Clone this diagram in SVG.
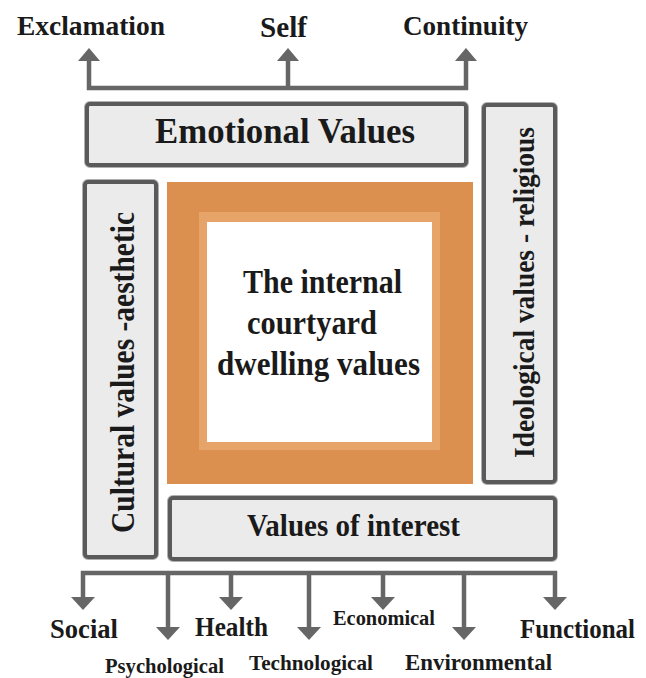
<svg xmlns="http://www.w3.org/2000/svg" width="646" height="678" viewBox="0 0 646 678">
  <style>
    .lbl { font-family: "Liberation Serif", "Times New Roman", serif; font-weight: bold; fill: #1a1a1a; }
    .box { fill: #ebebeb; stroke: #5a5a5a; stroke-width: 4; }
    .halo { fill: none; stroke: #b0b0b0; stroke-width: 6; }
    .wire { fill: none; stroke: #666666; stroke-width: 4.5; stroke-linejoin: miter; }
    .head { fill: #666666; }
  </style>
  <defs>
    <polygon id="upHead" points="0,0 -11,13 11,13"/>
    <polygon id="downHead" points="0,0 -12,-13 12,-13"/>
  </defs>
  <rect width="646" height="678" fill="#ffffff"/>

  <!-- connectors -->
  <g id="connectors">
    <!-- top branch -->
    <path class="wire" d="M89,61 V88 H466 V61 M288,88 V61"/>
    <use href="#upHead" x="89" y="48" class="head"/>
    <use href="#upHead" x="288" y="48" class="head"/>
    <use href="#upHead" x="466" y="48" class="head"/>
    <!-- bottom branch -->
    <path class="wire" d="M83,598 V573 H555 V598 M168,573 V627 M231,573 V598 M309,573 V627 M383,573 V598 M464,573 V627"/>
    <use href="#downHead" x="83" y="610" class="head"/>
    <use href="#downHead" x="168" y="640" class="head"/>
    <use href="#downHead" x="231" y="610" class="head"/>
    <use href="#downHead" x="309" y="640" class="head"/>
    <use href="#downHead" x="383" y="610" class="head"/>
    <use href="#downHead" x="464" y="640" class="head"/>
    <use href="#downHead" x="555" y="610" class="head"/>
  </g>

  <!-- top labels -->
  <g id="exclamation"><text class="lbl" x="17" y="35" font-size="27" textLength="148" lengthAdjust="spacingAndGlyphs">Exclamation</text></g>
  <g id="self"><text class="lbl" x="260" y="37" font-size="29" textLength="47" lengthAdjust="spacingAndGlyphs">Self</text></g>
  <g id="continuity"><text class="lbl" x="403" y="35" font-size="27" textLength="125" lengthAdjust="spacingAndGlyphs">Continuity</text></g>

  <!-- emotional values -->
  <g id="emotional">
    <rect class="halo" x="87" y="104" width="379" height="61" rx="3"/>
    <rect class="box" x="87" y="104" width="379" height="61" rx="3"/>
    <text class="lbl" x="155" y="143" font-size="36" textLength="260" lengthAdjust="spacingAndGlyphs">Emotional Values</text>
  </g>

  <!-- ideological values -->
  <g id="ideological">
    <rect class="halo" x="484" y="105" width="71" height="377" rx="3"/>
    <rect class="box" x="484" y="105" width="71" height="377" rx="3"/>
    <text class="lbl" transform="translate(534,458) rotate(-90)" font-size="30" textLength="331" lengthAdjust="spacingAndGlyphs">Ideological values - religious</text>
  </g>

  <!-- cultural values -->
  <g id="cultural">
    <rect class="halo" x="85" y="182" width="71" height="375" rx="3"/>
    <rect class="box" x="85" y="182" width="71" height="375" rx="3"/>
    <text class="lbl" transform="translate(134,533) rotate(-90)" font-size="33" textLength="321" lengthAdjust="spacingAndGlyphs">Cultural values -aesthetic</text>
  </g>

  <!-- central courtyard -->
  <g id="courtyard">
    <rect x="167" y="182" width="306" height="302" fill="#dc9050"/>
    <rect x="199" y="212" width="241" height="238" fill="#e6a469"/>
    <rect x="207" y="222" width="225" height="220" fill="#ffffff"/>
    <text class="lbl" x="243" y="293" font-size="33" textLength="159" lengthAdjust="spacingAndGlyphs">The internal</text>
    <text class="lbl" x="247" y="334" font-size="33" textLength="130" lengthAdjust="spacingAndGlyphs">courtyard</text>
    <text class="lbl" x="217" y="375" font-size="33" textLength="203" lengthAdjust="spacingAndGlyphs">dwelling values</text>
  </g>

  <!-- values of interest -->
  <g id="interest">
    <rect class="halo" x="170" y="498" width="385" height="61" rx="3"/>
    <rect class="box" x="170" y="498" width="385" height="61" rx="3"/>
    <text class="lbl" x="247" y="536" font-size="31" textLength="213" lengthAdjust="spacingAndGlyphs">Values of interest</text>
  </g>

  <!-- bottom labels -->
  <g id="social"><text class="lbl" x="50" y="638" font-size="27" textLength="68" lengthAdjust="spacingAndGlyphs">Social</text></g>
  <g id="psychological"><text class="lbl" x="105" y="673" font-size="21" textLength="119" lengthAdjust="spacingAndGlyphs">Psychological</text></g>
  <g id="health"><text class="lbl" x="195" y="636" font-size="27" textLength="73" lengthAdjust="spacingAndGlyphs">Health</text></g>
  <g id="technological"><text class="lbl" x="249" y="670" font-size="22" textLength="124" lengthAdjust="spacingAndGlyphs">Technological</text></g>
  <g id="economical"><text class="lbl" x="333" y="625" font-size="21" textLength="102" lengthAdjust="spacingAndGlyphs">Economical</text></g>
  <g id="environmental"><text class="lbl" x="405" y="670" font-size="24" textLength="147" lengthAdjust="spacingAndGlyphs">Environmental</text></g>
  <g id="functional"><text class="lbl" x="520" y="638" font-size="27" textLength="115" lengthAdjust="spacingAndGlyphs">Functional</text></g>
</svg>
